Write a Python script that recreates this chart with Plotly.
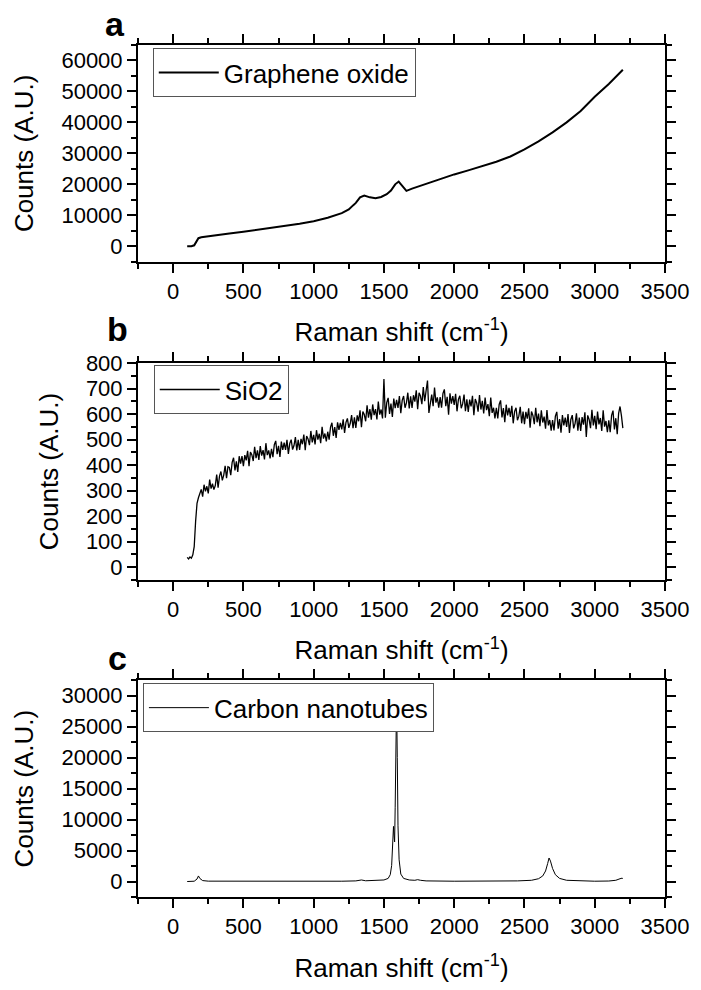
import plotly.graph_objects as go

# ---------------- data ----------------
SERIES_NAMES = ["Graphene oxide", "SiO2", "Carbon nanotubes"]
PANEL_LABELS = ["a", "b", "c"]

GO_SHIFT = [100, 130, 150, 165, 180, 200, 300, 400, 500, 600, 700, 800, 900, 1000,
            1100, 1200, 1250, 1280, 1300, 1330, 1360, 1400, 1440, 1480, 1520, 1550,
            1580, 1605, 1630, 1660, 1700, 1750, 1800, 1900, 2000, 2100, 2200, 2300,
            2400, 2500, 2600, 2700, 2800, 2900, 3000, 3100, 3200]
GO_COUNTS = [0, 0, 300, 1500, 2600, 2900, 3600, 4100, 4700, 5300, 5900, 6600, 7300, 8100,
             9200, 10700, 11900, 13200, 14000, 15800, 16400, 15800, 15500, 15900, 16800, 18000,
             20000, 20900, 19500, 17900, 18600, 19400, 20200, 21700, 23200, 24500, 25900, 27300,
             29000, 31300, 33900, 36800, 40000, 43700, 48300, 52400, 57000]

SIO2_SHIFT = list(range(100, 3201, 10))
SIO2_COUNTS = [
    38, 32, 40, 35, 48, 80, 180, 250, 272, 285,            # 100-190
    305, 276, 323, 297, 317, 289, 343, 308, 327, 304,      # 200
    320, 363, 312, 357, 375, 340, 361, 397, 349, 394,      # 300
    391, 361, 411, 429, 379, 415, 373, 435, 406, 435,      # 400
    396, 439, 419, 456, 396, 451, 441, 416, 472, 427,      # 500
    458, 420, 475, 437, 459, 422, 486, 439, 458, 426,      # 600
    464, 431, 480, 495, 443, 476, 432, 492, 460, 488,      # 700
    460, 499, 444, 485, 500, 461, 477, 510, 458, 499,      # 800
    460, 503, 482, 520, 459, 514, 503, 478, 534, 489,      # 900
    519, 481, 537, 500, 523, 486, 550, 504, 524, 493,      # 1000
    531, 500, 549, 566, 515, 549, 507, 568, 538, 566,      # 1100
    540, 580, 526, 568, 583, 546, 563, 596, 545, 587,      # 1200
    546, 595, 572, 615, 549, 610, 599, 572, 635, 586,      # 1300
    620, 578, 638, 596, 620, 579, 649, 598, 618, 583,      # 1400
    738, 586, 645, 664, 601, 641, 589, 661, 623, 656,      # 1500
    624, 671, 604, 654, 671, 625, 644, 684, 622, 670,      # 1600
    624, 674, 649, 693, 619, 684, 671, 639, 706, 651,      # 1700
    687, 732, 605, 654, 677, 631, 704, 645, 666, 625,      # 1800
    667, 625, 681, 697, 631, 668, 598, 682, 641, 671,      # 1900
    636, 680, 611, 658, 672, 623, 640, 677, 612, 658,      # 2000
    609, 657, 630, 672, 596, 659, 644, 610, 675, 618,      # 2100
    652, 603, 665, 616, 639, 592, 665, 605, 625, 583,      # 2200
    625, 583, 638, 654, 587, 624, 568, 637, 595, 625,      # 2300
    589, 633, 564, 611, 625, 576, 592, 629, 564, 610,      # 2400
    561, 609, 582, 623, 547, 610, 595, 561, 625, 568,      # 2500
    602, 553, 615, 567, 590, 543, 616, 556, 577, 535,      # 2600
    577, 536, 592, 609, 543, 581, 527, 596, 556, 586,      # 2700
    550, 600, 526, 579, 596, 544, 563, 603, 535, 586,      # 2800
    534, 588, 559, 607, 510, 595, 579, 545, 617, 556,      # 2900
    593, 541, 610, 560, 585, 534, 615, 551, 573, 529,      # 3000
    576, 529, 595, 614, 540, 584, 521, 603, 630, 594,      # 3100
    545]                                                   # 3200

CNT_SHIFT = [100, 150, 170, 180, 190, 210, 250, 400, 800, 1200, 1300, 1340, 1370, 1450,
             1500, 1530, 1545, 1555, 1562, 1568, 1572, 1576, 1580, 1585, 1590, 1595, 1600,
             1608, 1620, 1640, 1680, 1720, 1740, 1760, 1800, 2000, 2300, 2450, 2550, 2600,
             2630, 2650, 2665, 2675, 2685, 2700, 2720, 2750, 2800, 2900, 3000, 3100, 3150,
             3180, 3195, 3200]
CNT_COUNTS = [0, 50, 400, 900, 500, 150, 60, 40, 30, 50, 100, 250, 120, 150,
              250, 500, 1100, 2600, 5500, 8900, 7500, 6400, 12000, 22000, 29500, 20000, 9000,
              3500, 1200, 500, 250, 200, 300, 200, 100, 50, 50, 100, 200, 450,
              900, 1700, 2900, 3800, 3300, 2100, 1100, 500, 200, 80, 50, 80, 200,
              450, 550, 450]

X_TICK_STEP = 500
Y_TICK_STEPS = [10000, 100, 5000]
Y_RANGES = [[-5000, 65000], [-50, 800], [-2500, 32500]]
X_RANGE = [-250, 3500]

# ---------------- layout geometry ----------------
W, H = 701, 990
ML, MR, MT, MB = 138, 28, 45, 88
PH = H - MT - MB
PW = W - ML - MR

def py(pix):  # pixel y -> paper y
    return 1 - (pix - MT) / PH

def px(pix):
    return (pix - ML) / PW

panel_px = [(45, 263), (365, 583), (684, 902)]
legend_pos = [(153, 48), (154, 367), (143, 687)]
label_pos = [(115, 45), (117, 352), (117, 683)]
line_widths = [2, 1.3, 1]

FONT = "Liberation Sans, Arial, sans-serif"

fig = go.Figure()
xs = [GO_SHIFT, SIO2_SHIFT, CNT_SHIFT]
ys = [GO_COUNTS, SIO2_COUNTS, CNT_COUNTS]

for i in range(3):
    suffix = "" if i == 0 else str(i + 1)
    fig.add_trace(go.Scatter(
        x=xs[i], y=ys[i], mode="lines", name=SERIES_NAMES[i],
        line=dict(color="black", width=line_widths[i]),
        xaxis="x" + suffix, yaxis="y" + suffix,
        legend="legend" + suffix, showlegend=True,
    ))

common = dict(
    showline=True, linecolor="black", linewidth=2, mirror="ticks",
    ticks="outside", ticklen=9, tickwidth=2, tickcolor="black",
    showgrid=False, zeroline=False,
    tickfont=dict(family=FONT, size=22, color="black"),
)

layout = dict(
    width=W, height=H, margin=dict(l=ML, r=MR, t=MT, b=MB),
    paper_bgcolor="white", plot_bgcolor="white",
    font=dict(family=FONT, color="black"),
    annotations=[],
)

for i in range(3):
    suffix = "" if i == 0 else str(i + 1)
    top, bot = panel_px[i]
    xa = dict(common)
    xa.update(
        domain=[0, 1], range=X_RANGE, tick0=0, dtick=X_TICK_STEP,
        anchor="y" + suffix, tickformat="d",
        minor=dict(ticks="outside", ticklen=5, tickwidth=2, tickcolor="black",
                   dtick=X_TICK_STEP / 2, showgrid=False),
        title=dict(text="Raman shift (cm<sup>-1</sup>)", font=dict(family=FONT, size=26),
                   standoff=20),
    )
    ya = dict(common)
    ya.update(
        domain=[py(bot), py(top)], range=Y_RANGES[i], tick0=0, dtick=Y_TICK_STEPS[i],
        anchor="x" + suffix, tickformat="d",
        minor=dict(ticks="outside", ticklen=5, tickwidth=2, tickcolor="black",
                   dtick=Y_TICK_STEPS[i] / 2, showgrid=False),
        title=dict(text="Counts (A.U.)", font=dict(family=FONT, size=26), standoff=20),
    )
    layout["xaxis" + suffix] = xa
    layout["yaxis" + suffix] = ya
    lx, ly = legend_pos[i]
    layout["legend" + suffix] = dict(
        x=px(lx), y=py(ly), xanchor="left", yanchor="top",
        bgcolor="white", bordercolor="#555555", borderwidth=1,
        font=dict(family=FONT, size=26, color="black"),
        itemwidth=60, tracegroupgap=0,
    )
    ax_, ay_ = label_pos[i]
    layout["annotations"].append(dict(
        text="<b>%s</b>" % PANEL_LABELS[i], xref="paper", yref="paper",
        x=px(ax_), y=py(ay_), xanchor="center", yanchor="bottom",
        showarrow=False, font=dict(family=FONT, size=34, color="black"),
    ))

fig.update_layout(**layout)
fig.write_html("out.html")
